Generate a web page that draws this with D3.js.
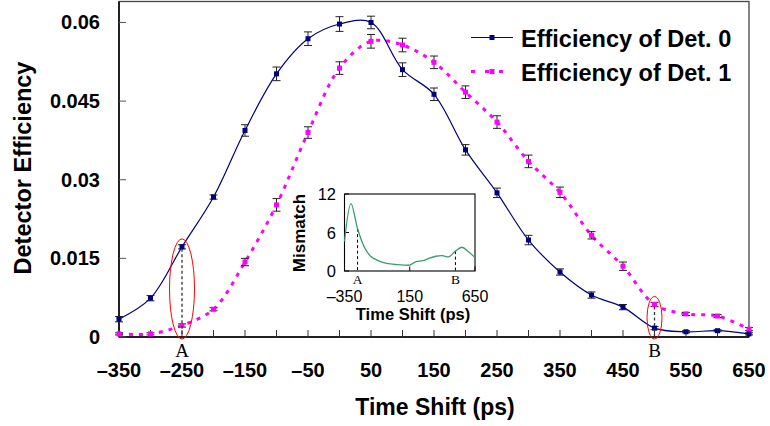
<!DOCTYPE html>
<html><head><meta charset="utf-8">
<script src="https://cdn.jsdelivr.net/npm/d3@7"></script>
<style>html,body{margin:0;padding:0;background:#fff;}svg{display:block;font-family:"Liberation Sans",Arial,sans-serif;}</style>
</head><body><svg id="c" width="770" height="426"></svg>
<script>
// ---- data ----
const timeShift = [-350,-300,-250,-200,-150,-100,-50,0,50,100,150,200,250,300,350,400,450,500,550,600,650];
const det0 = [0.0034,0.0074,0.0172,0.0267,0.0394,0.0502,0.0569,0.0597,0.0600,0.0510,0.0463,0.0357,0.0275,0.0185,0.0124,0.0080,0.0057,0.0017,0.0010,0.0012,0.0006];
const det0Err = [0.0005,0.0005,0.0004,0.0004,0.0011,0.0013,0.0013,0.0014,0.0012,0.0013,0.0012,0.0010,0.0009,0.0009,0.0006,0.0006,0.0005,0.0003,0.0002,0.0002,0.0002];
const det1 = [0.0006,0.0006,0.0022,0.0053,0.0143,0.0252,0.0390,0.0513,0.0564,0.0557,0.0524,0.0467,0.0410,0.0335,0.0276,0.0194,0.0135,0.0062,0.0044,0.0040,0.0015];
const det1Err = [0.0002,0.0002,0.0003,0.0003,0.0007,0.0012,0.0011,0.0012,0.0013,0.0013,0.0012,0.0012,0.0012,0.0012,0.0010,0.0007,0.0008,0.0004,0.0003,0.0003,0.0003];
const seriesNames = ["Efficiency of Det. 0","Efficiency of Det. 1"];
const xTickLabels = [-350,-250,-150,-50,50,150,250,350,450,550,650];
const xTickMarks = timeShift;
const yTickLabels = [0,0.015,0.03,0.045,0.06];
const yTickText = ["0","0.015","0.03","0.045","0.06"];
const markX = [-250,500];
const markLabels = ["A","B"];
// inset: mismatch
const insetX = [-350,-300,-250,-200,-150,-100,-50,0,50,100,150,200,250,300,350,400,450,500,550,600,650];
const mismatch = [4.6,10.5,6.6,3.8,2.3,1.7,1.3,1.1,1.0,0.93,0.93,1.45,1.6,2.0,2.3,2.4,2.2,3.1,3.7,3.0,2.1];
const insetXTicks = [-350,150,650];
const insetYTicks = [0,6,12];

const svg = d3.select("#c");
const x = d3.scaleLinear().domain([-350,650]).range([119,749]);
const y = d3.scaleLinear().domain([0,0.064]).range([337,1.5]);
const fmtDash = v => v<0 ? "\u2013"+Math.abs(v) : String(v);

// frame
svg.append("rect").attr("x",119).attr("y",1.5).attr("width",630).attr("height",335.5)
  .attr("fill","none").attr("stroke","#444").attr("stroke-width",1.3);
svg.append("line").attr("x1",119).attr("x2",749).attr("y1",337).attr("y2",337).attr("stroke","#000").attr("stroke-width",1.5);
svg.append("line").attr("x1",119).attr("x2",119).attr("y1",1.5).attr("y2",337).attr("stroke","#000").attr("stroke-width",1.5);

// ticks
svg.append("g").selectAll("line").data(xTickMarks).join("line")
  .attr("x1",d=>x(d)).attr("x2",d=>x(d)).attr("y1",337).attr("y2",330).attr("stroke","#333").attr("stroke-width",1);
svg.append("g").selectAll("line").data(yTickLabels).join("line")
  .attr("x1",119).attr("x2",126).attr("y1",d=>y(d)).attr("y2",d=>y(d)).attr("stroke","#555").attr("stroke-width",1);
svg.append("g").selectAll("text").data(xTickLabels).join("text")
  .attr("x",d=>x(d)).attr("y",377).attr("text-anchor","middle")
  .attr("font-size",20).attr("font-weight","bold").text(fmtDash);
svg.append("g").selectAll("text").data(yTickLabels).join("text")
  .attr("x",100).attr("y",d=>y(d)+7).attr("text-anchor","end")
  .attr("font-size",20).attr("font-weight","bold").text((d,i)=>yTickText[i]);

// axis titles
svg.append("text").attr("x",435).attr("y",415).attr("text-anchor","middle")
  .attr("font-size",23).attr("font-weight","bold").text("Time Shift (ps)");
svg.append("text").attr("transform","translate(31,168) rotate(-90)").attr("text-anchor","middle")
  .attr("font-size",23.5).attr("font-weight","bold").text("Detector Efficiency");

// lines
const line0 = d3.line().x((d,i)=>x(timeShift[i])).y(d=>y(d)).curve(d3.curveCatmullRom.alpha(0.5));
svg.append("path").attr("d",line0(det1)).attr("fill","none").attr("stroke","#ff00ff")
  .attr("stroke-width",3).attr("stroke-dasharray","4,6");
svg.append("path").attr("d",line0(det0)).attr("fill","none").attr("stroke","#000080").attr("stroke-width",1.2);

// error bars
function errBars(vals, errs){
  const g = svg.append("g").attr("stroke","#222").attr("stroke-width",1);
  vals.forEach((v,i)=>{
    const cx = x(timeShift[i]), y1 = y(v+errs[i]), y2 = y(v-errs[i]);
    g.append("line").attr("x1",cx).attr("x2",cx).attr("y1",y1).attr("y2",y2);
    g.append("line").attr("x1",cx-4).attr("x2",cx+4).attr("y1",y1).attr("y2",y1);
    g.append("line").attr("x1",cx-4).attr("x2",cx+4).attr("y1",y2).attr("y2",y2);
  });
}
errBars(det0, det0Err);
errBars(det1, det1Err);

// markers
svg.append("g").selectAll("rect").data(det1).join("rect")
  .attr("x",(d,i)=>x(timeShift[i])-2.5).attr("y",d=>y(d)-2.5).attr("width",5).attr("height",5).attr("fill","#ff00ff");
svg.append("g").selectAll("rect").data(det0).join("rect")
  .attr("x",(d,i)=>x(timeShift[i])-2.5).attr("y",d=>y(d)-2.5).attr("width",5).attr("height",5).attr("fill","#000080");

// A / B annotations
const ellRx = [12.5,7.5];
markX.forEach((mx,k)=>{
  const i = timeShift.indexOf(mx);
  const hi = Math.max(det0[i],det1[i]);
  const cx = x(mx);
  svg.append("line").attr("x1",cx).attr("x2",cx).attr("y1",y(hi)+2).attr("y2",y(0))
    .attr("stroke","#333").attr("stroke-width",1.3).attr("stroke-dasharray","3,2.5");
  const top = y(hi)-8, bot = y(0)+2;
  svg.append("ellipse").attr("cx",cx).attr("cy",(top+bot)/2).attr("rx",ellRx[k]).attr("ry",(bot-top)/2)
    .attr("fill","none").attr("stroke","#ff0000").attr("stroke-width",1);
  svg.append("text").attr("x",cx).attr("y",357).attr("text-anchor","middle")
    .attr("font-family","'Liberation Serif','Times New Roman',serif").attr("font-size",19).text(markLabels[k]);
});

// legend
const legY = [37.5,71.5];
const lg = svg.append("g");
lg.append("line").attr("x1",471).attr("x2",513).attr("y1",legY[0]).attr("y2",legY[0]).attr("stroke","#000080").attr("stroke-width",1.2);
lg.append("rect").attr("x",489.5).attr("y",legY[0]-2.5).attr("width",5).attr("height",5).attr("fill","#000080");
lg.append("line").attr("x1",471).attr("x2",513).attr("y1",legY[1]).attr("y2",legY[1]).attr("stroke","#ff00ff").attr("stroke-width",3).attr("stroke-dasharray","4,10");
lg.append("rect").attr("x",489.5).attr("y",legY[1]-2.5).attr("width",5).attr("height",5).attr("fill","#ff00ff");
seriesNames.forEach((s,i)=>{
  lg.append("text").attr("x",521).attr("y",legY[i]+9.5).attr("font-size",23.5).attr("font-weight","bold").text(s);
});

// inset
const ix = d3.scaleLinear().domain([-350,650]).range([344.5,475]);
const iy = d3.scaleLinear().domain([0,12]).range([271,194]);
const ins = svg.append("g");
ins.append("rect").attr("x",344.5).attr("y",194).attr("width",130.5).attr("height",77)
  .attr("fill","#fff").attr("stroke","#000").attr("stroke-width",1.1);
ins.selectAll(".yt").data(insetYTicks).join("line").attr("class","yt")
  .attr("x1",344.5).attr("x2",349).attr("y1",d=>iy(d)).attr("y2",d=>iy(d)).attr("stroke","#000");
ins.selectAll(".xt").data(insetXTicks).join("line").attr("class","xt")
  .attr("x1",d=>ix(d)).attr("x2",d=>ix(d)).attr("y1",271).attr("y2",266.5).attr("stroke","#000");
ins.selectAll(".ytl").data(insetYTicks).join("text").attr("class","ytl")
  .attr("x",336).attr("y",d=>iy(d)+6).attr("text-anchor","end").attr("font-size",16.5).text(d=>d);
ins.selectAll(".xtl").data(insetXTicks).join("text").attr("class","xtl")
  .attr("x",d=>ix(d)).attr("y",302).attr("text-anchor","middle").attr("font-size",16).text(fmtDash);
const iline = d3.line().x((d,i)=>ix(insetX[i])).y(d=>iy(d)).curve(d3.curveCatmullRom.alpha(0.5));
markX.forEach((mx,k)=>{
  const i = insetX.indexOf(mx);
  ins.append("line").attr("x1",ix(mx)).attr("x2",ix(mx)).attr("y1",iy(mismatch[i])).attr("y2",271)
    .attr("stroke","#000").attr("stroke-width",1).attr("stroke-dasharray","3,2.5");
  ins.append("text").attr("x",ix(mx)).attr("y",284).attr("text-anchor","middle")
    .attr("font-family","'Liberation Serif','Times New Roman',serif").attr("font-size",13.5).text(markLabels[k]);
});
ins.append("path").attr("d",iline(mismatch)).attr("fill","none").attr("stroke","#3a9d6e").attr("stroke-width",1.3);
ins.append("text").attr("transform","translate(305,233) rotate(-90)").attr("text-anchor","middle")
  .attr("font-size",17).attr("font-weight","bold").text("Mismatch");
ins.append("text").attr("x",413).attr("y",320).attr("text-anchor","middle")
  .attr("font-size",16.5).attr("font-weight","bold").text("Time Shift (ps)");
</script></body></html>
